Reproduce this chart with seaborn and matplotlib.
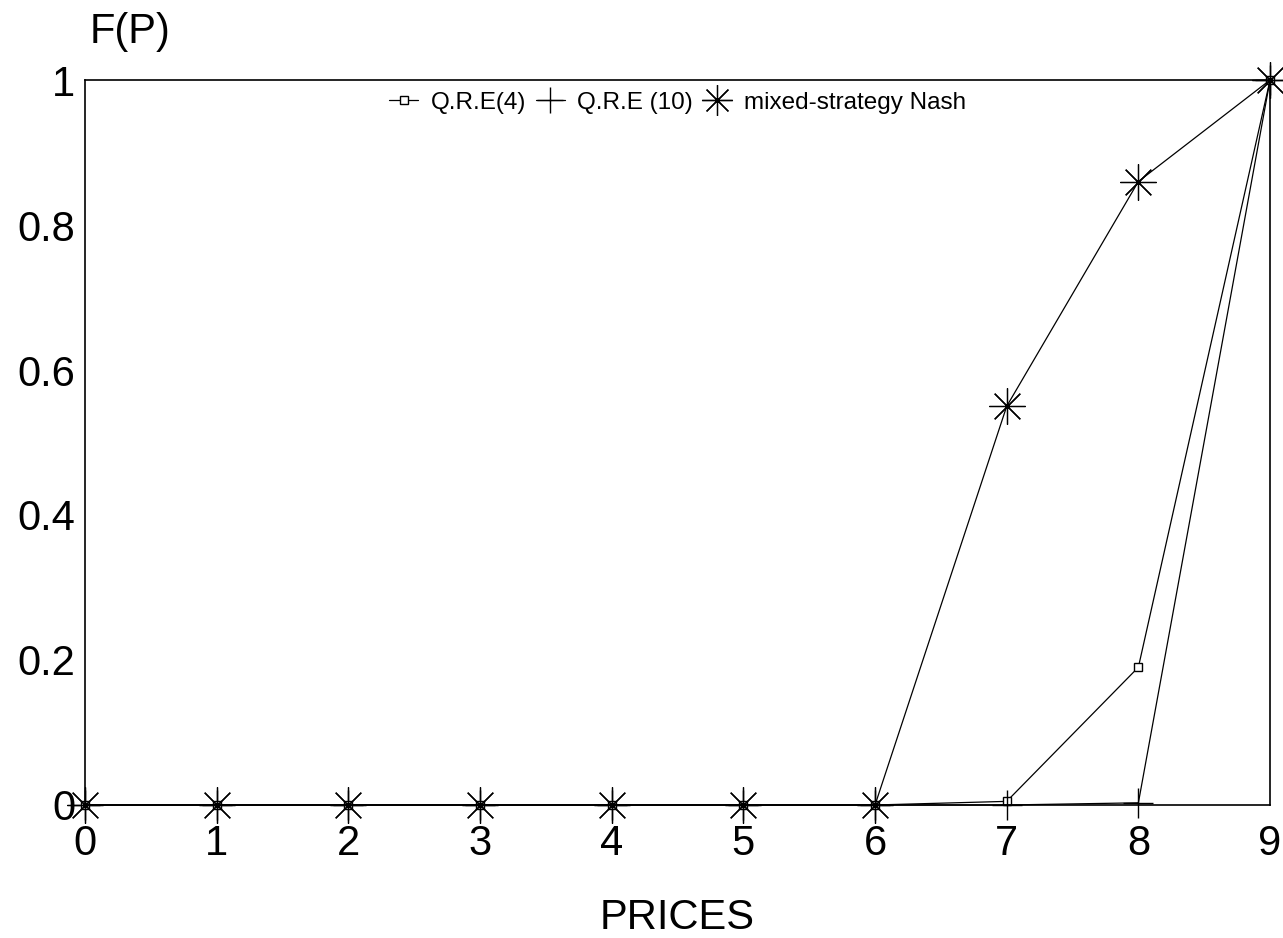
import matplotlib
matplotlib.use("Agg")
import matplotlib.pyplot as plt
import seaborn as sns
import pandas as pd

prices = [0, 1, 2, 3, 4, 5, 6, 7, 8, 9]
qre4 = [0, 0, 0, 0, 0, 0, 0, 0.005, 0.19, 1.0]
qre10 = [0, 0, 0, 0, 0, 0, 0, 0.0, 0.003, 1.0]
nash = [0, 0, 0, 0, 0, 0, 0, 0.55, 0.86, 1.0]
series_names = ["Q.R.E(4)", "Q.R.E (10)", "mixed-strategy Nash"]
x_ticks = [0, 1, 2, 3, 4, 5, 6, 7, 8, 9]
y_ticks = [0, 0.2, 0.4, 0.6, 0.8, 1]
y_tick_labels = ["0", "0.2", "0.4", "0.6", "0.8", "1"]

sns.set_style("white")
plt.rcParams['font.family'] = ['Liberation Sans', 'DejaVu Sans']
plt.rcParams['text.color'] = 'black'
plt.rcParams['xtick.color'] = 'black'
plt.rcParams['ytick.color'] = 'black'
plt.rcParams['axes.labelcolor'] = 'black'

df = pd.DataFrame({
    "price": prices * 3,
    "F": qre4 + qre10 + nash,
    "series": [series_names[0]] * 10 + [series_names[1]] * 10 + [series_names[2]] * 10,
})

fig = plt.figure(figsize=(12.83, 9.38), dpi=100)
ax = fig.add_axes([0.0663, 0.1418, 0.9236, 0.7729])

markers = {series_names[0]: "s", series_names[1]: "+", series_names[2]: (8, 2, 0)}
sizes = {series_names[0]: 6, series_names[1]: 22, series_names[2]: 26}
mfc = {series_names[0]: "white", series_names[1]: "black", series_names[2]: "black"}
mew = {series_names[0]: 1.0, series_names[1]: 1.0, series_names[2]: 0.9}

for name in series_names:
    sub = df[df["series"] == name]
    sns.lineplot(data=sub, x="price", y="F", ax=ax, color="black", linewidth=0.9,
                 marker=markers[name], markersize=sizes[name], markerfacecolor=mfc[name],
                 markeredgecolor="black", markeredgewidth=mew[name], label=name, clip_on=False)

ax.set_xlim(0, 9)
ax.set_ylim(0, 1)
ax.set_xticks(x_ticks)
ax.set_xticklabels([str(v) for v in x_ticks], fontsize=30)
ax.set_yticks(y_ticks)
ax.set_yticklabels(y_tick_labels, fontsize=30)
ax.tick_params(axis="both", length=0)
ax.tick_params(axis="y", pad=7)
ax.tick_params(axis="x", pad=14)
for s in ax.spines.values():
    s.set_color("black")
    s.set_linewidth(1.2)
ax.set_xlabel("PRICES", fontsize=30, labelpad=24)
ax.set_ylabel("")
fig.text(0.07, 0.945, "F(P)", fontsize=30, ha="left", va="bottom")

leg = ax.legend(loc="upper center", bbox_to_anchor=(0.5, 1.014), ncol=3, frameon=False,
                fontsize=17.5, handlelength=1.2, handletextpad=0.5, columnspacing=0.4,
                markerscale=0.85)

fig.savefig("out.png", dpi=100)
